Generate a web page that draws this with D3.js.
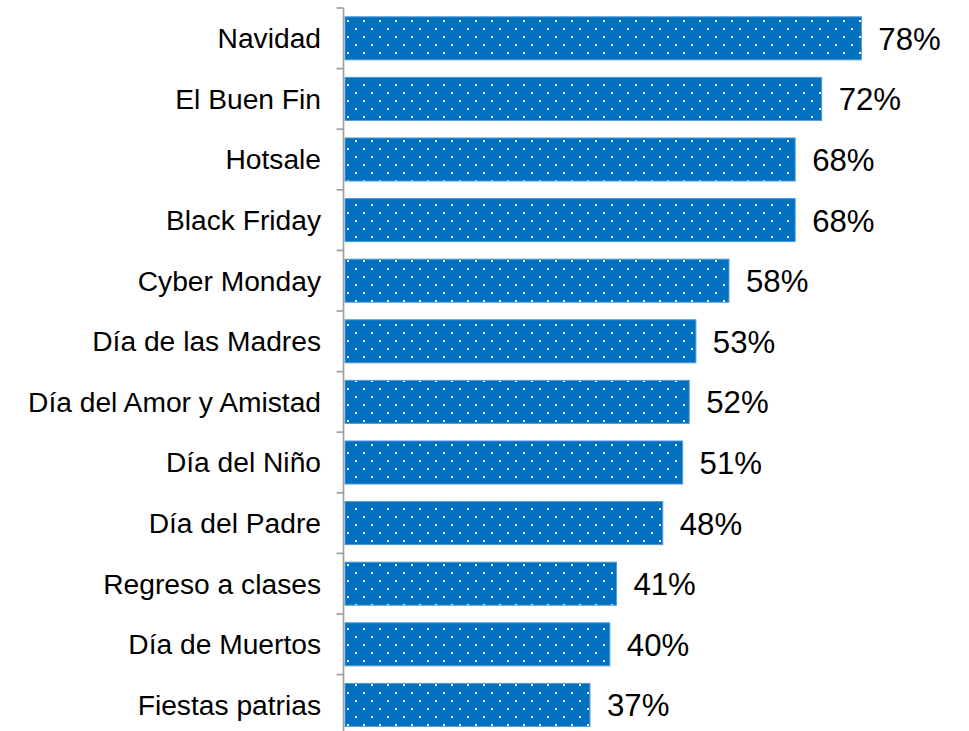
<!DOCTYPE html>
<html>
<head>
<meta charset="utf-8">
<script src="https://cdn.jsdelivr.net/npm/d3@7"></script>
<style>
  body { margin: 0; background: #fff; }
  svg text { font-family: "Liberation Sans", Arial, sans-serif; fill: #000; }
</style>
</head>
<body>
<div id="chart"></div>
<script>
// data
var categories = ['Navidad', 'El Buen Fin', 'Hotsale', 'Black Friday', 'Cyber Monday',
    'Día de las Madres', 'Día del Amor y Amistad', 'Día del Niño', 'Día del Padre',
    'Regreso a clases', 'Día de Muertos', 'Fiestas patrias'];
var values = [78, 72, 68, 68, 58, 53, 52, 51, 48, 41, 40, 37];

var width = 969, height = 731;

var svg = d3.select('#chart').append('svg')
    .attr('width', width)
    .attr('height', height);

// white dot pattern on the bars
var defs = svg.append('defs');
var pat = defs.append('pattern')
    .attr('id', 'dots')
    .attr('patternUnits', 'userSpaceOnUse')
    .attr('width', 16)
    .attr('height', 16);
pat.append('rect').attr('width', 16).attr('height', 16).attr('fill', '#0070C0');
pat.append('rect').attr('x', 11).attr('y', 4).attr('width', 2).attr('height', 2).attr('fill', '#fff');
pat.append('rect').attr('x', 3).attr('y', 12).attr('width', 2).attr('height', 2).attr('fill', '#fff');

var x = d3.scaleLinear()
    .domain([0, 80])
    .range([345, 345 + 80 * 6.62]);

var y = d3.scaleBand()
    .domain(categories)
    .range([8, 8 + 12 * 60.6])
    .paddingInner(0.29)
    .paddingOuter(0.145);

var data = categories.map(function(c, i) { return {cat: c, val: values[i]}; });

// bars
svg.selectAll('.bar')
    .data(data)
    .enter().append('rect')
    .attr('class', 'bar')
    .attr('x', x(0))
    .attr('y', function(d) { return y(d.cat); })
    .attr('width', function(d) { return x(d.val) - x(0); })
    .attr('height', y.bandwidth())
    .attr('fill', 'url(#dots)')
    .attr('stroke', '#4d9ad8')
    .attr('stroke-width', 1);

// axis line + ticks at band boundaries
var axisX = 343.5;
var half = y.step() * y.paddingInner() / 2;
svg.append('line')
    .attr('x1', axisX).attr('x2', axisX)
    .attr('y1', y(categories[0]) - half)
    .attr('y2', height)
    .attr('stroke', '#a0a0a0')
    .attr('stroke-width', 1.7);

svg.selectAll('.tick')
    .data(categories)
    .enter().append('line')
    .attr('class', 'tick')
    .attr('x1', axisX - 7).attr('x2', axisX)
    .attr('y1', function(d) { return y(d) - half; })
    .attr('y2', function(d) { return y(d) - half; })
    .attr('stroke', '#a0a0a0')
    .attr('stroke-width', 1.7);

// category labels
svg.selectAll('.cat')
    .data(data)
    .enter().append('text')
    .attr('class', 'cat')
    .attr('x', 321)
    .attr('y', function(d) { return y(d.cat) + y.bandwidth() / 2; })
    .attr('dy', '0.35em')
    .style('text-anchor', 'end')
    .style('font-size', '28.2px')
    .text(function(d) { return d.cat; });

// value labels
svg.selectAll('.val')
    .data(data)
    .enter().append('text')
    .attr('class', 'val')
    .attr('x', function(d) { return x(d.val) + 17; })
    .attr('y', function(d) { return y(d.cat) + y.bandwidth() / 2; })
    .attr('dy', '0.37em')
    .style('font-size', '31.2px')
    .text(function(d) { return d.val + '%'; });
</script>
</body>
</html>
